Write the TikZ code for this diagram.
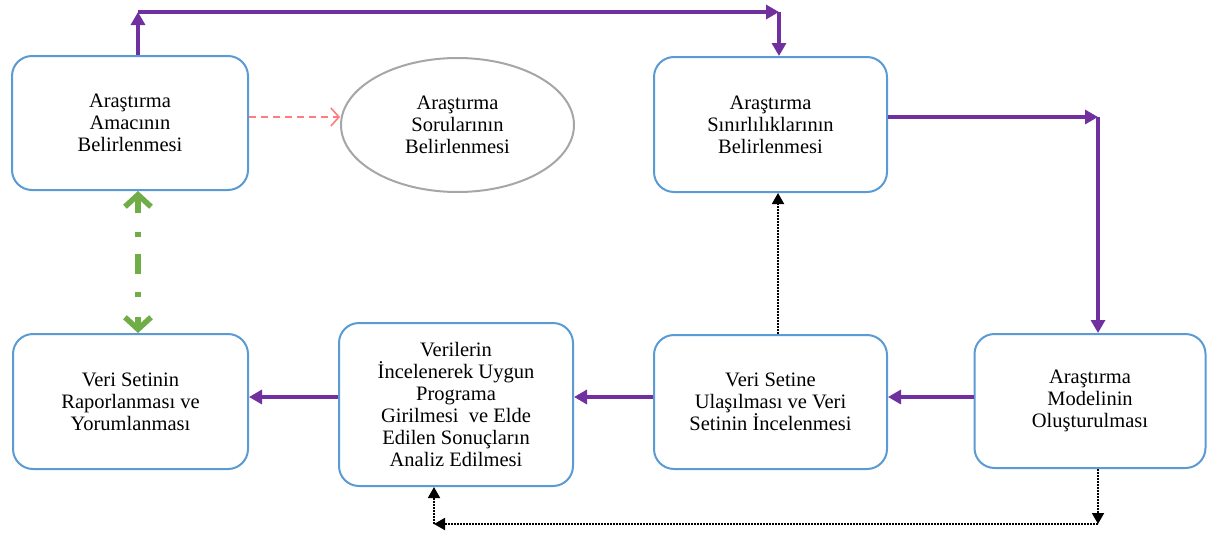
\documentclass[tikz,border=0pt]{standalone}
\usepackage{fontspec}
\setmainfont{Liberation Serif}
\usetikzlibrary{arrows.meta,shapes.geometric}
\definecolor{boxblue}{HTML}{5B9BD5}
\definecolor{ppl}{HTML}{7030A0}
\definecolor{grn}{HTML}{70AD47}
\definecolor{rdash}{HTML}{FF7C80}
\definecolor{ellgray}{HTML}{A6A6A6}
\tikzset{
  stepbox/.style={draw=boxblue, line width=2pt, rounded corners=20pt, align=center, inner sep=0pt,
    font=\fontsize{20.5}{22}\selectfont, fill=white},
  ellnode/.style={ellipse, draw=ellgray, line width=2pt, align=center, inner sep=0pt,
    font=\fontsize{20.5}{22}\selectfont},
  parrow/.style={draw=ppl, line width=3.2pt, -{Triangle[length=13pt,width=14pt]}},
  darrow/.style={draw=black, line width=1.8pt, dash pattern=on 1.6pt off 1.4pt, -{Triangle[length=11pt,width=12pt]}},
  rarrow/.style={draw=rdash, line width=1.6pt, dash pattern=on 7pt off 5pt, -{Straight Barb[length=8pt,width=18pt]}},
  garrow/.style={draw=grn, line width=5.5pt, {Straight Barb[length=12pt,width=26pt]}-{Straight Barb[length=12pt,width=26pt]},
    dash pattern=on 16pt off 19pt on 5pt off 17pt on 20pt off 18pt on 5pt off 20pt on 30pt off 10pt}
}
\begin{document}
\begin{tikzpicture}[x=1pt,y=-1pt]
\useasboundingbox (0,0) rectangle (1208,533);
\node[stepbox, minimum width=236pt, minimum height=134pt] (b1) at (130,123) {Araştırma\\Amacının\\Belirlenmesi};
\node[ellnode, minimum width=233pt, minimum height=134pt] (ell) at (457.5,125) {Araştırma\\Sorularının\\Belirlenmesi};
\node[stepbox, minimum width=233pt, minimum height=135pt] (b2) at (770.5,124.5) {Araştırma\\Sınırlılıklarının\\Belirlenmesi};
\node[stepbox, minimum width=235pt, minimum height=135pt] (b3) at (130.5,401.5) {Veri Setinin\\Raporlanması ve\\Yorumlanması};
\node[stepbox, minimum width=234pt, minimum height=163pt] (b4) at (456,404.5) {Verilerin\\İncelenerek Uygun\\Programa\\Girilmesi \ ve Elde\\Edilen Sonuçların\\Analiz Edilmesi};
\node[stepbox, minimum width=233pt, minimum height=134pt] (b5) at (770.5,402) {Veri Setine\\Ulaşılması ve Veri\\Setinin İncelenmesi};
\node[stepbox, minimum width=231pt, minimum height=134pt] (b6) at (1090,401) {Araştırma\\Modelinin\\Oluşturulması};

\coordinate (t1) at (138,12);
\coordinate (t2) at (779,12);
\coordinate (r1) at (1098,117);
\coordinate (m) at (0,397);
\coordinate (d1) at (778,0);
\coordinate (d2) at (1098,524);
\coordinate (d3) at (434,524);
\coordinate (e) at (0,117);

\draw[parrow] (b1.north -| t1) -- (t1);
\draw[parrow] (t1) -- (t2);
\draw[parrow] (t2) -- (b2.north -| t2);
\draw[parrow] (b2.east |- r1) -- (r1);
\draw[parrow] (r1) -- (b6.north -| r1);
\draw[parrow] (b6.west |- m) -- (b5.east |- m);
\draw[parrow] (b5.west |- m) -- (b4.east |- m);
\draw[parrow] (b4.west |- m) -- (b3.east |- m);

\draw[darrow] (b5.north -| d1) -- (b2.south -| d1);
\draw[darrow] (b6.south -| d2) -- (d2);
\draw[darrow] (d2) -- (d3);
\draw[darrow] (d3) -- (b4.south -| d3);

\draw[rarrow] (b1.east |- e) -- (ell.west |- e);
\draw[garrow] (b1.south -| t1) -- (b3.north -| t1);
\end{tikzpicture}
\end{document}
